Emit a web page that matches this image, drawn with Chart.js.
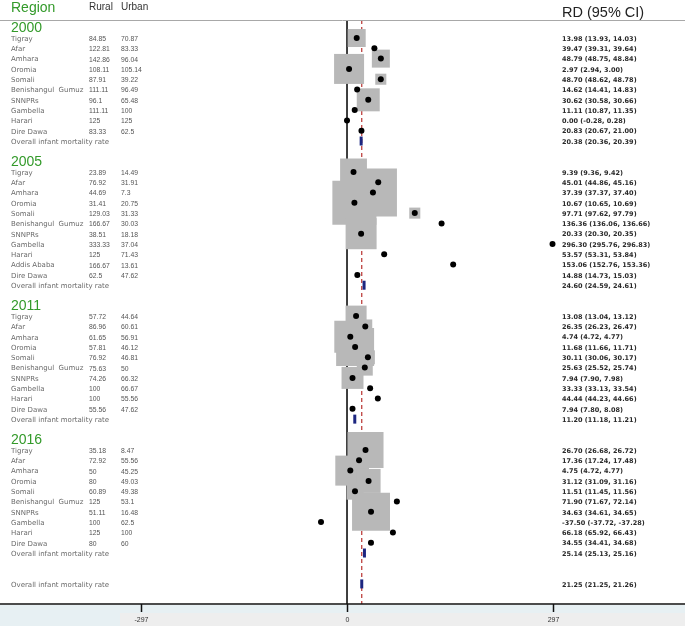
<!DOCTYPE html>
<html>
<head>
<meta charset="utf-8">
<script src="https://cdn.jsdelivr.net/npm/chart.js@4.4.1/dist/chart.umd.min.js"></script>
<style>
  html, body { margin: 0; padding: 0; background: #fff; }
  #wrap { width: 685px; height: 626px; }
</style>
</head>
<body>
<div id="wrap"><canvas id="canvas1" width="685" height="626"></canvas></div>
<script>
// data
var years = ['2000', '2005', '2011', '2016'];
var regions = [
    ['Tigray', 'Afar', 'Amhara', 'Oromia', 'Somali', 'Benishangul  Gumuz', 'SNNPRs', 'Gambella', 'Harari', 'Dire Dawa'],
    ['Tigray', 'Afar', 'Amhara', 'Oromia', 'Somali', 'Benishangul  Gumuz', 'SNNPRs', 'Gambella', 'Harari', 'Addis Ababa', 'Dire Dawa'],
    ['Tigray', 'Afar', 'Amhara', 'Oromia', 'Somali', 'Benishangul  Gumuz', 'SNNPRs', 'Gambella', 'Harari', 'Dire Dawa'],
    ['Tigray', 'Afar', 'Amhara', 'Oromia', 'Somali', 'Benishangul  Gumuz', 'SNNPRs', 'Gambella', 'Harari', 'Dire Dawa']
];
var rural = [
    ['84.85', '122.81', '142.86', '108.11', '87.91', '111.11', '96.1', '111.11', '125', '83.33'],
    ['23.89', '76.92', '44.69', '31.41', '129.03', '166.67', '38.51', '333.33', '125', '166.67', '62.5'],
    ['57.72', '86.96', '61.65', '57.81', '76.92', '75.63', '74.26', '100', '100', '55.56'],
    ['35.18', '72.92', '50', '80', '60.89', '125', '51.11', '100', '125', '80']
];
var urban = [
    ['70.87', '83.33', '96.04', '105.14', '39.22', '96.49', '65.48', '100', '125', '62.5'],
    ['14.49', '31.91', '7.3', '20.75', '31.33', '30.03', '18.18', '37.04', '71.43', '13.61', '47.62'],
    ['44.64', '60.61', '56.91', '46.12', '46.81', '50', '66.32', '66.67', '55.56', '47.62'],
    ['8.47', '55.56', '45.25', '49.03', '49.38', '53.1', '16.48', '62.5', '100', '60']
];
var rd = [
    [13.98, 39.47, 48.79, 2.97, 48.70, 14.62, 30.62, 11.11, 0.00, 20.83],
    [9.39, 45.01, 37.39, 10.67, 97.71, 136.36, 20.33, 296.30, 53.57, 153.06, 14.88],
    [13.08, 26.35, 4.74, 11.68, 30.11, 25.63, 7.94, 33.33, 44.44, 7.94],
    [26.70, 17.36, 4.75, 31.12, 11.51, 71.90, 34.63, -37.50, 66.18, 34.55]
];
var ciLow = [
    [13.93, 39.31, 48.75, 2.94, 48.62, 14.41, 30.58, 10.87, -0.28, 20.67],
    [9.36, 44.86, 37.37, 10.65, 97.62, 136.06, 20.30, 295.76, 53.31, 152.76, 14.73],
    [13.04, 26.23, 4.72, 11.66, 30.06, 25.52, 7.90, 33.13, 44.23, 7.80],
    [26.68, 17.24, 4.72, 31.09, 11.45, 71.67, 34.61, -37.72, 65.92, 34.41]
];
var ciHigh = [
    [14.03, 39.64, 48.84, 3.00, 48.78, 14.83, 30.66, 11.35, 0.28, 21.00],
    [9.42, 45.16, 37.40, 10.69, 97.79, 136.66, 20.35, 296.83, 53.84, 153.36, 15.03],
    [13.12, 26.47, 4.77, 11.71, 30.17, 25.74, 7.98, 33.54, 44.66, 8.08],
    [26.72, 17.48, 4.77, 31.16, 11.56, 72.14, 34.65, -37.28, 66.43, 34.68]
];
// relative study weights (box area)
var boxWeight = [
    [9, 0.4, 9, 25, 3.4, 0.6, 14.7, 0.4, 0.3, 0.6],
    [20, 17, 64, 54, 3.4, 0.5, 26.7, 0.3, 0.5, 0.4, 0.6],
    [12.3, 5.4, 28.4, 40, 5.4, 7.1, 13.4, 0.5, 0.5, 0.6],
    [36, 11, 25, 16, 8, 0.6, 40, 0.4, 0.5, 0.6]
];
var yearOverall = [20.38, 24.60, 11.20, 25.14];
var yearOverallLow = [20.36, 24.59, 11.18, 25.13];
var yearOverallHigh = [20.39, 24.61, 11.21, 25.16];
var totalOverall = 21.25, totalLow = 21.25, totalHigh = 21.26;
var tickValues = [-297, 0, 297];

// row layout
var rows = [];      // {row, label, rural, urban, rd, lo, hi, w, kind}
var headers = [];   // {row, text}
var r = 0;
years.forEach(function(yr, k) {
    headers.push({row: r, text: yr});
    regions[k].forEach(function(name, i) {
        rows.push({row: r + 1 + i, label: name, rural: rural[k][i], urban: urban[k][i],
                   rd: rd[k][i], lo: ciLow[k][i], hi: ciHigh[k][i], w: boxWeight[k][i], kind: 'study'});
    });
    var ov = r + 1 + regions[k].length;
    rows.push({row: ov, label: 'Overall infant mortality rate', rd: yearOverall[k],
               lo: yearOverallLow[k], hi: yearOverallHigh[k], kind: 'overall'});
    r = ov + 2;
});
rows.push({row: r + 1, label: 'Overall infant mortality rate', rd: totalOverall,
           lo: totalLow, hi: totalHigh, kind: 'overall'});

var yMin = -0.75, yMax = 55.95;
var studies = rows.filter(function(d) { return d.kind === 'study'; });
var overalls = rows.filter(function(d) { return d.kind === 'overall'; });

function fmt(v) { return v.toFixed(2); }

var forestText = {
    id: 'forestText',
    afterDraw: function(chart) {
        var ctx = chart.ctx, xs = chart.scales.x, ys = chart.scales.y;
        var W = chart.width;
        ctx.save();
        // header rule
        ctx.strokeStyle = '#a8a8a8';
        ctx.lineWidth = 1;
        ctx.beginPath(); ctx.moveTo(0, 20.5); ctx.lineTo(W, 20.5); ctx.stroke();

        ctx.textBaseline = 'alphabetic';
        ctx.fillStyle = '#339a2a';
        ctx.font = '14px "Liberation Sans", Arial, sans-serif';
        ctx.fillText('Region', 11, 12);
        ctx.fillStyle = '#333';
        ctx.font = '10px "Liberation Sans", Arial, sans-serif';
        ctx.fillText('Rural', 89, 10);
        ctx.fillText('Urban', 121, 10);
        ctx.fillStyle = '#222';
        ctx.font = '14.5px "Liberation Sans", Arial, sans-serif';
        ctx.fillText('RD (95% CI)', 562, 16.5);

        ctx.fillStyle = '#339a2a';
        ctx.font = '14px "Liberation Sans", Arial, sans-serif';
        headers.forEach(function(h) {
            ctx.fillText(h.text, 11, ys.getPixelForValue(h.row) + 4);
        });

        ctx.textBaseline = 'middle';
        rows.forEach(function(d) {
            var y = ys.getPixelForValue(d.row) + 1;
            ctx.fillStyle = '#6a6a6a';
            ctx.font = '7px "DejaVu Sans", sans-serif';
            ctx.fillText(d.label, 11, y);
            if (d.kind === 'study') {
                ctx.fillStyle = '#555';
                ctx.font = '6.8px "Liberation Sans", Arial, sans-serif';
                ctx.fillText(d.rural, 89, y);
                ctx.fillText(d.urban, 121, y);
            }
            ctx.fillStyle = '#2a2a2a';
            ctx.font = 'bold 6.5px "DejaVu Sans", sans-serif';
            ctx.fillText(fmt(d.rd) + ' (' + fmt(d.lo) + ', ' + fmt(d.hi) + ')', 562, y);
        });

        // x axis band
        var axY = chart.chartArea.bottom;
        ctx.fillStyle = '#e7f0f3';
        ctx.fillRect(0, axY + 1, W, chart.height - axY);
        ctx.fillStyle = '#eeeeee';
        ctx.fillRect(120, axY + 9, W - 120, chart.height - axY - 9);
        ctx.strokeStyle = '#111';
        ctx.lineWidth = 1.5;
        ctx.beginPath(); ctx.moveTo(0, axY); ctx.lineTo(W, axY); ctx.stroke();
        ctx.fillStyle = '#333';
        ctx.font = '7px "Liberation Sans", Arial, sans-serif';
        ctx.textAlign = 'center';
        tickValues.forEach(function(t) {
            var x = Math.round(xs.getPixelForValue(t)) + 0.5;
            ctx.beginPath(); ctx.moveTo(x, axY); ctx.lineTo(x, axY + 8); ctx.stroke();
            ctx.fillText(String(t), x, axY + 16);
        });
        ctx.restore();
    }
};

new Chart(document.getElementById('canvas1'), {
    type: 'scatter',
    data: {
        datasets: [
            {
                label: 'overall',
                data: overalls.map(function(d) { return {x: d.rd, y: d.row}; }),
                pointStyle: 'line',
                rotation: 90,
                pointRadius: 4.5,
                borderWidth: 3,
                borderColor: '#1c2680',
                order: 0
            },
            {
                label: 'estimate',
                data: studies.map(function(d) { return {x: d.rd, y: d.row}; }),
                pointStyle: 'circle',
                pointRadius: 3,
                backgroundColor: '#000',
                borderWidth: 0,
                order: 1
            },
            {
                label: 'weight',
                data: studies.map(function(d) { return {x: d.rd, y: d.row}; }),
                pointStyle: 'rect',
                pointRadius: studies.map(function(d) { return Math.sqrt(d.w) * 6 / Math.SQRT2; }),
                backgroundColor: '#b8b8b8',
                borderWidth: 0,
                order: 2
            },
            {
                type: 'line',
                label: 'pooled',
                data: [{x: totalOverall, y: yMin}, {x: totalOverall, y: yMax}],
                borderColor: '#b8312f',
                borderWidth: 1.2,
                borderDash: [4, 3],
                pointRadius: 0,
                order: 3
            },
            {
                type: 'line',
                label: 'null',
                data: [{x: 0, y: yMin}, {x: 0, y: yMax}],
                borderColor: '#000',
                borderWidth: 1.5,
                pointRadius: 0,
                order: 4
            }
        ]
    },
    options: {
        responsive: false,
        animation: false,
        events: [],
        layout: { autoPadding: false, padding: { top: 20, bottom: 22, left: 0, right: 0 } },
        scales: {
            x: { type: 'linear', min: -500.3, max: 487.3, display: false },
            y: { type: 'linear', min: yMin, max: yMax, reverse: true, display: false }
        },
        plugins: { legend: { display: false }, tooltip: { enabled: false } }
    },
    plugins: [forestText]
});
</script>
</body>
</html>
